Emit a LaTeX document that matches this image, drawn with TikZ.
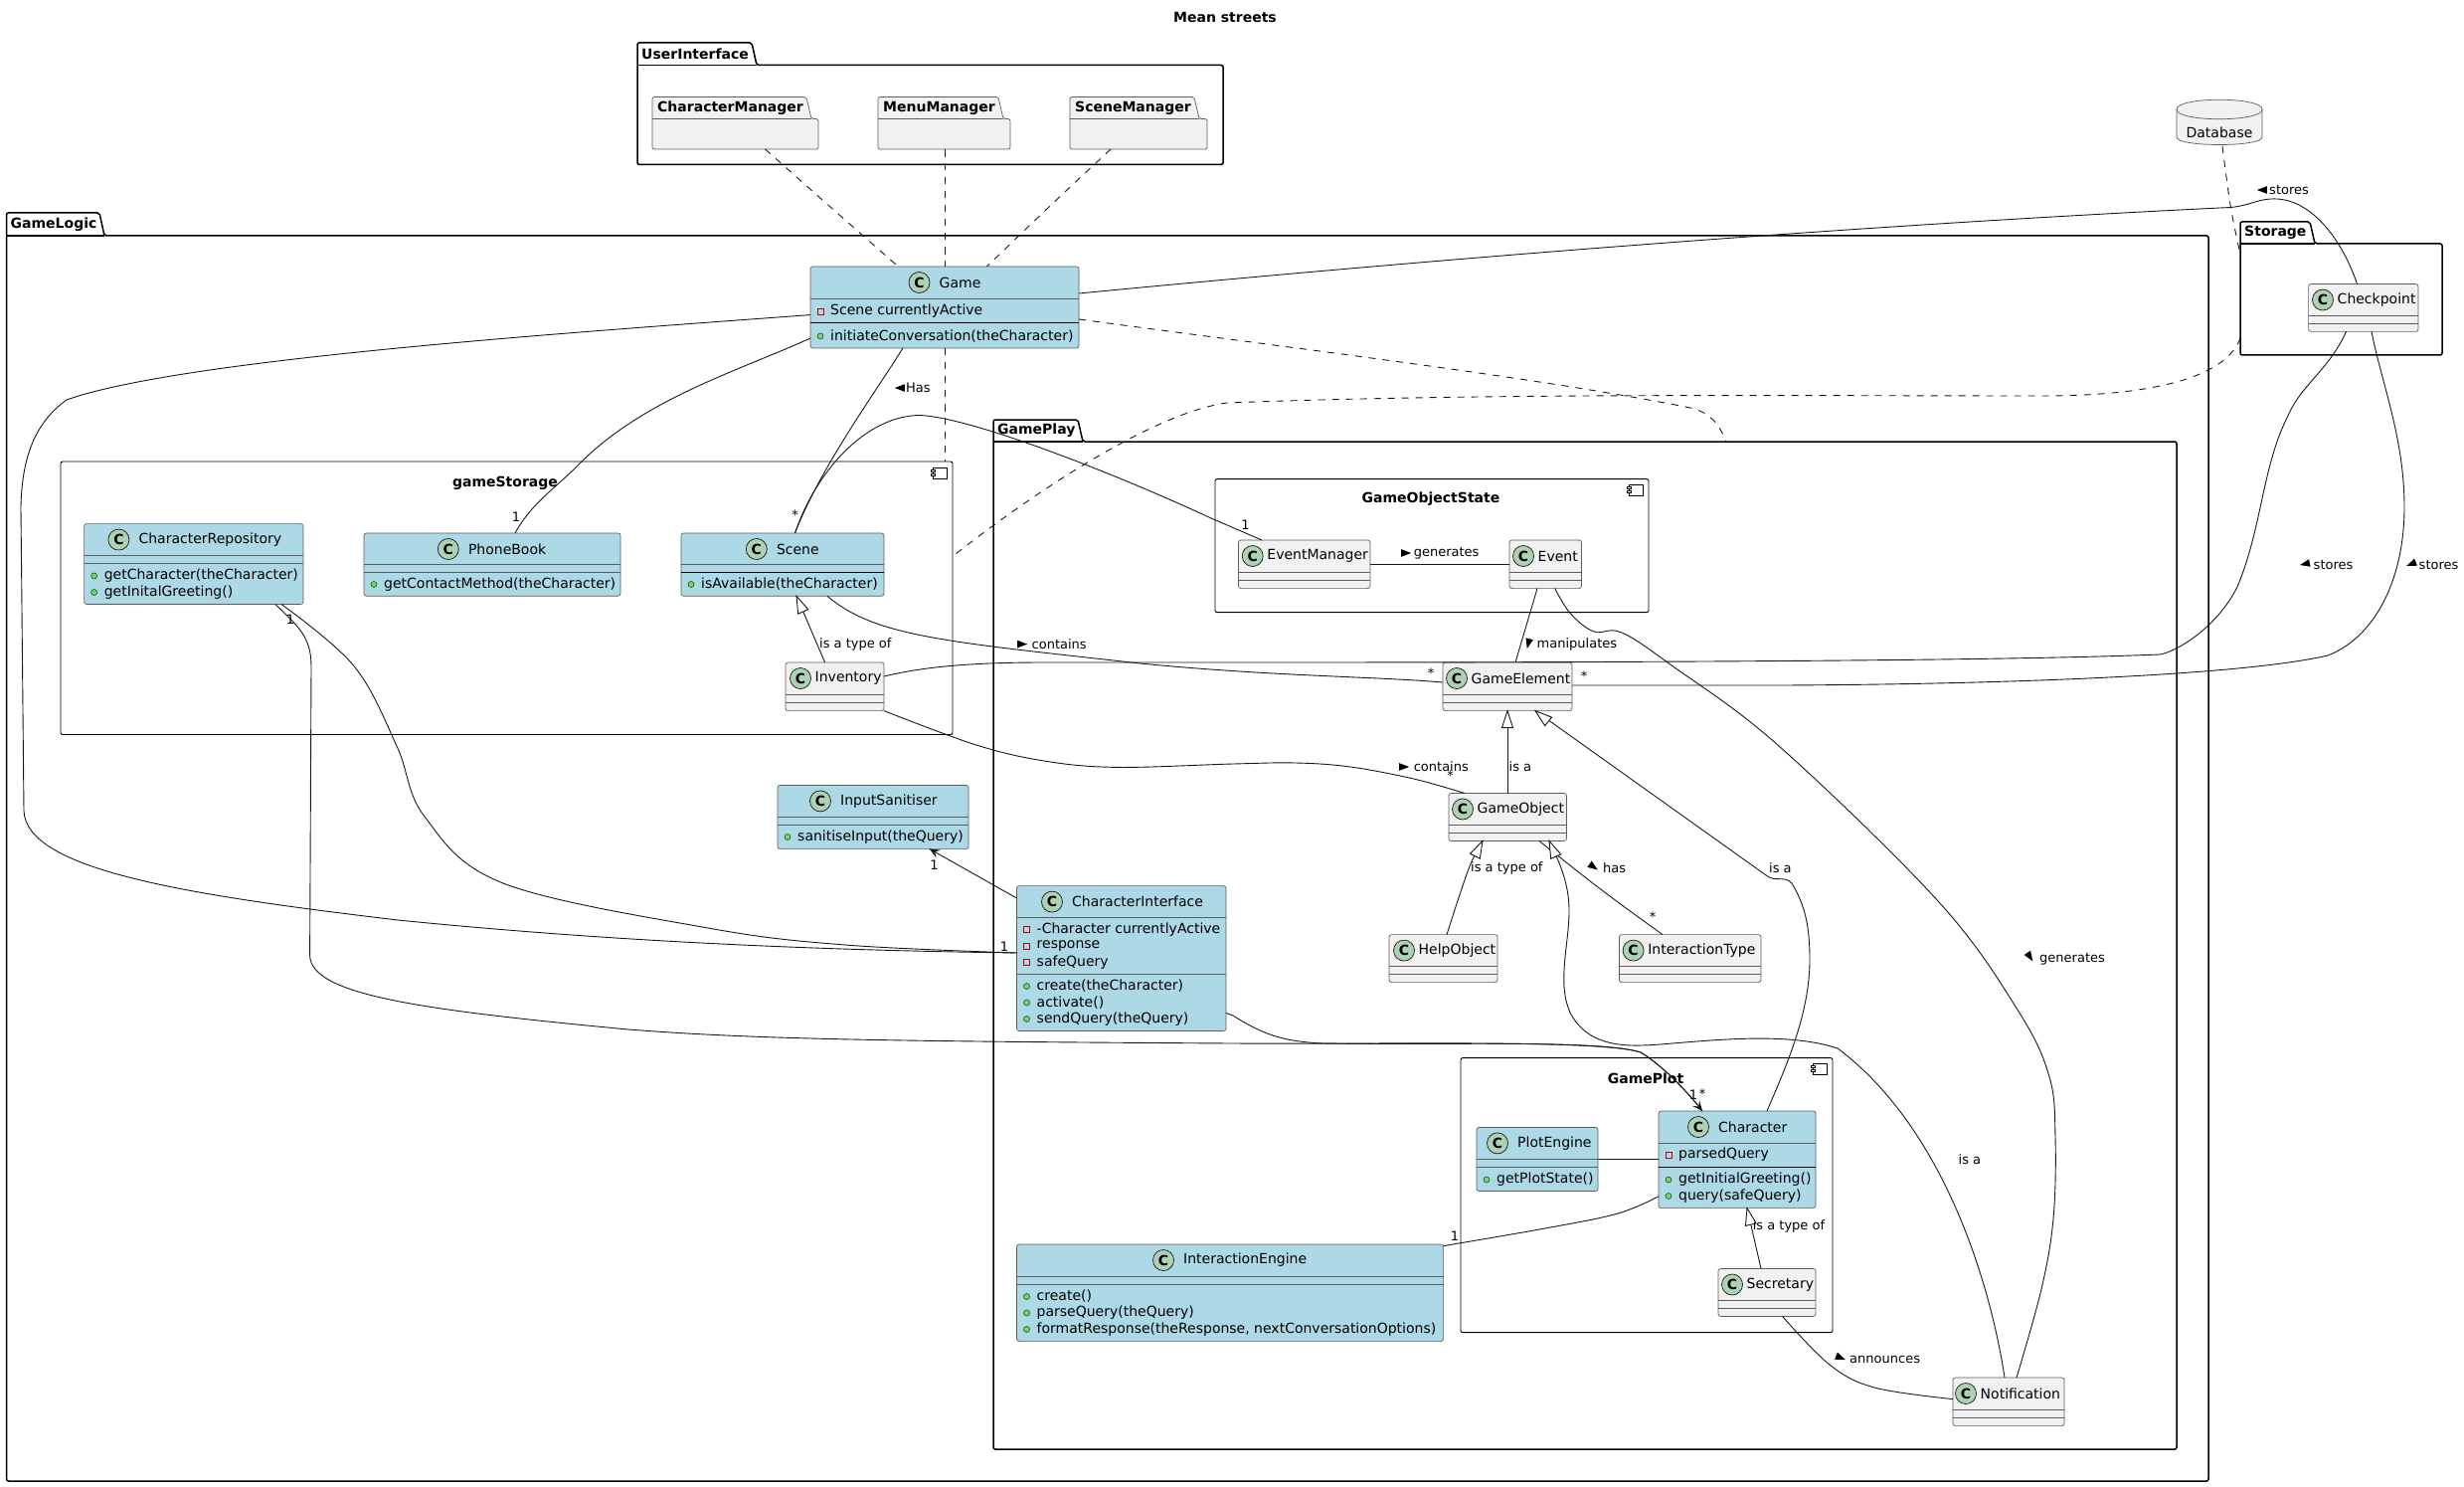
\documentclass[tikz,border=0pt]{standalone}
\usepackage{fontspec}
\setmainfont{DejaVu Sans}
\usetikzlibrary{calc}
\definecolor{cblue}{HTML}{ADD8E6}
\definecolor{cgrey}{HTML}{F1F1F1}
\definecolor{cicon}{HTML}{ADD1B2}
\definecolor{cline}{HTML}{181818}
\tikzset{
  x=1pt,y=-1pt,
  conn/.style={draw=cline,line width=0.9pt},
  dashconn/.style={draw=cline,line width=0.9pt,dash pattern=on 7pt off 7pt},
  classframe/.style={draw=cline!70,line width=0.7pt,rounded corners=2.5pt,inner sep=0pt,outer sep=0pt},
  sepline/.style={draw=cline!70,line width=0.7pt},
  lbl/.style={font=\fontsize{13}{15}\selectfont,inner sep=0pt,anchor=west,text=black},
  mult/.style={font=\fontsize{13}{15}\selectfont,inner sep=0pt,text=black},
  memb/.style={font=\fontsize{14}{16}\selectfont,inner sep=0pt,anchor=west,text=black},
  ttl/.style={font=\fontsize{14}{16}\selectfont,inner sep=0pt,anchor=west,text=black},
  iconc/.style={circle,draw=cline,fill=cicon,line width=0.7pt,minimum size=21pt,inner sep=0pt,font=\fontsize{14}{16}\selectfont\bfseries},
  pkline/.style={draw=black,line width=1.5pt,rounded corners=2pt},
  pklbl/.style={font=\fontsize{14}{16}\selectfont\bfseries,inner sep=0pt,anchor=west,text=black},
  region/.style={inner sep=0pt,outer sep=0pt},
}
\newcommand{\regionnode}[6][]{%
  \pgfmathsetmacro{\rw}{#5-#3}\pgfmathsetmacro{\rh}{#6-#4}%
  \node[region,#1,minimum width=\rw pt,minimum height=\rh pt,anchor=north west] (#2) at (#3,#4) {};}
\newcommand{\cls}[8]{%
  \regionnode[classframe,fill=#6]{#1}{#2}{#3}{#4}{#5}%
  \pgfmathsetmacro{\cy}{#3+16}%
  \node[iconc] (#1icon) at (#8,\cy) {C};%
  \pgfmathsetmacro{\tx}{#8+\offs}%
  \node[ttl] (#1title) at (\tx,\cy) {#7};}
\def\offs{20}
\newcommand{\seps}[6]{%
  \draw[sepline] (#1,#3) -- (#2,#3);
  \draw[draw=#5,line width=#6pt] (#1,#4) -- (#2,#4);}
\newcommand{\pub}[5]{%
  \fill[fill=green!40!gray!70,draw=green!40!black,line width=0.6pt] (#2+10,#3) circle (3pt);
  \node[memb] (#1) at (#2+20,#3) {#4};}
\newcommand{\prv}[4]{%
  \draw[draw=red!75!black,line width=0.8pt] (#2+7,#3-3) rectangle (#2+13,#3+3);
  \node[memb] (#1) at (#2+20,#3) {#4};}
\newcommand{\pkgframe}[8]{%
  \regionnode{#1}{#2}{#3}{#6}{#7}%
  \draw[pkline] (#2,#5) -- (#2,#3) -- (#4-5,#3) -- (#4,#5) -- (#6,#5) -- (#6,#7) -- (#2,#7) -- cycle;
  \draw[draw=black,line width=1.5pt] (#2,#5) -- (#4,#5);
  \pgfmathsetmacro{\ly}{(#3+#5)/2}%
  \node[pklbl] (#1label) at (#2+4,\ly) {#8};}
\newcommand{\inpkg}[7]{%
  \regionnode{#1}{#2}{#3}{#5}{#6}%
  \draw[draw=cline!70,fill=cgrey,line width=0.7pt,rounded corners=2pt] (#2,#3+22) -- (#2,#3) -- (#4-5,#3) -- (#4,#3+22) -- (#5,#3+22) -- (#5,#6) -- (#2,#6) -- cycle;
  \draw[draw=cline!70,line width=0.7pt] (#2,#3+22) -- (#4,#3+22);
  \node[pklbl] (#1label) at (#2+5,#3+11) {#7};}
\newcommand{\comp}[8]{%
  \regionnode[draw=black,line width=0.9pt,rounded corners=2pt]{#1}{#2}{#3}{#4}{#5}%
  \node[font=\fontsize{14}{16}\selectfont\bfseries,inner sep=0pt] (#1title) at (#6,#7) {#8};
  \draw[draw=black,line width=0.7pt,fill=white] (#4-20,#3+6) rectangle (#4-6,#3+17);
  \draw[draw=black,line width=0.7pt,fill=white] (#4-22,#3+8) rectangle (#4-18,#3+10);
  \draw[draw=black,line width=0.7pt,fill=white] (#4-22,#3+12) rectangle (#4-18,#3+14);}
\newcommand{\hollow}[2]{%
  \coordinate (htip) at #1; \coordinate (hfrom) at #2;
  \coordinate (hbase) at ($(htip)!17pt!(hfrom)$);
  \draw[draw=cline,fill=white,line width=0.9pt] (htip) -- ($(hbase)!5.5pt!90:(htip)$) -- ($(hbase)!5.5pt!-90:(htip)$) -- cycle;}
\newcommand{\barb}[2]{%
  \coordinate (htip) at #1; \coordinate (hfrom) at #2;
  \coordinate (hbase) at ($(htip)!10pt!(hfrom)$);
  \coordinate (hnotch) at ($(htip)!6pt!(hfrom)$);
  \fill[fill=cline] (htip) -- ($(hbase)!4.5pt!90:(htip)$) -- (hnotch) -- ($(hbase)!4.5pt!-90:(htip)$) -- cycle;}
\newcommand{\ltri}[3]{%
  \fill[fill=black,shift={(#1,#2)}] (#3:5.2) -- (#3+142:6.2) -- (#3-142:6.2) -- cycle;}
\newcommand{\plotc}[2][conn]{\draw[#1] plot[smooth,tension=0.6] coordinates {#2};}
\begin{document}
\begin{tikzpicture}
\useasboundingbox (0,0) rectangle (2478,1495);
\node[font=\fontsize{14}{16}\selectfont\bfseries,inner sep=0pt] (title) at (1232,18) {Mean streets};

% ---------- packages
\pkgframe{ui}{641}{43}{761}{65.5}{1230}{165.5}{UserInterface}
\pkgframe{gamelogic}{6.5}{214}{105}{237}{2221}{1489}{GameLogic}
\pkgframe{gameplay}{999}{422}{1089}{444}{2189}{1457}{GamePlay}
\pkgframe{storage}{2253}{223}{2328}{245}{2456}{357}{Storage}
\inpkg{charman}{656}{97.6}{816}{823}{150}{CharacterManager}
\inpkg{menuman}{883}{97.6}{1009}{1016}{150}{MenuManager}
\inpkg{sceneman}{1076}{97.6}{1206}{1214}{150}{SceneManager}

% ---------- database
\regionnode{database}{2189}{100}{2275}{146}
\draw[draw=cline!70,fill=cgrey,line width=0.7pt] (2189,110) .. controls (2189,97) and (2275,97) .. (2275,110) -- (2275,138) .. controls (2275,148) and (2189,148) .. (2189,138) -- cycle;
\draw[draw=cline!70,line width=0.7pt] (2189,110) .. controls (2189,123) and (2275,123) .. (2275,110);
\node[font=\fontsize{14}{16}\selectfont,inner sep=0pt] (dblabel) at (2232,133.5) {Database};

% ---------- components
\comp{gamestorage}{61}{464}{958}{738.5}{508}{486}{gameStorage}
\comp{gos}{1222}{481.6}{1658}{615.6}{1439}{502}{GameObjectState}
\comp{gameplot}{1469}{1063.6}{1843}{1339.6}{1655}{1084}{GamePlot}

% ---------- blue classes
\def\offs{20}
\cls{game}{815}{268}{1085}{350}{cblue}{Game}{924.5}
\draw[sepline] (815,300) -- (1085,300); \draw[draw=black,line width=1pt] (815,325) -- (1085,325);
\prv{gamem1}{815}{313}{Scene currentlyActive}
\pub{gamem2}{815}{338}{initiateConversation(theCharacter)}{}

\cls{charrepo}{84.6}{526.6}{305}{607.5}{cblue}{CharacterRepository}{119.4}
\seps{84.6}{305}{558.6}{566.6}{cline!70}{0.7}
\pub{crm1}{84.6}{579}{getCharacter(theCharacter)}{}
\pub{crm2}{84.6}{595.5}{getInitalGreeting()}{}

\cls{phonebook}{366}{536}{624}{599.3}{cblue}{PhoneBook}{450.8}
\seps{366}{624}{567.5}{575.5}{cline!70}{0.7}
\pub{pbm1}{366}{587.5}{getContactMethod(theCharacter)}{}

\cls{scene}{685}{536}{889}{599.3}{cblue}{Scene}{760.8}
\draw[sepline] (685,567.5) -- (889,567.5); \draw[draw=black,line width=1pt] (685,575.5) -- (889,575.5);
\pub{scm1}{685}{587.5}{isAvailable(theCharacter)}{}

\cls{sanitiser}{782}{789.4}{974}{853.6}{cblue}{InputSanitiser}{825}
\seps{782}{974}{821}{829}{cline!70}{0.7}
\pub{sam1}{782}{841.5}{sanitiseInput(theQuery)}{}

\cls{charif}{1022.5}{890.6}{1233}{1036.5}{cblue}{CharacterInterface}{1058}
\draw[sepline] (1022.5,922.5) -- (1233,922.5); \draw[sepline] (1022.5,979.5) -- (1233,979.5);
\prv{cim1}{1022.5}{934.5}{-Character currentlyActive}
\prv{cim2}{1022.5}{951}{response}
\prv{cim3}{1022.5}{967.5}{safeQuery}
\pub{cim4}{1022.5}{991.5}{create(theCharacter)}{}
\pub{cim5}{1022.5}{1008}{activate()}{}
\pub{cim6}{1022.5}{1024.5}{sendQuery(theQuery)}{}

\cls{intengine}{1022.5}{1251}{1451.6}{1348.6}{cblue}{InteractionEngine}{1170}
\seps{1022.5}{1451.6}{1283}{1291}{cline!70}{0.7}
\pub{iem1}{1022.5}{1303.5}{create()}{}
\pub{iem2}{1022.5}{1320}{parseQuery(theQuery)}{}
\pub{iem3}{1022.5}{1336.5}{formatResponse(theResponse, nextConversationOptions)}{}

\cls{character}{1668}{1117}{1826}{1214.6}{cblue}{Character}{1708}
\draw[sepline] (1668,1149) -- (1826,1149); \draw[draw=black,line width=1pt] (1668,1173) -- (1826,1173);
\prv{chm1}{1668}{1161}{parsedQuery}
\pub{chm2}{1668}{1186}{getInitialGreeting()}{}
\pub{chm3}{1668}{1202.5}{query(safeQuery)}{}

\cls{plotengine}{1485}{1133.4}{1607}{1197.5}{cblue}{PlotEngine}{1506}
\seps{1485}{1607}{1165.5}{1173.5}{cline!70}{0.7}
\pub{pem1}{1485}{1186}{getPlotState()}{}

% ---------- grey classes
\def\offs{14.5}
\cls{inventory}{790}{666}{889}{714.6}{cgrey}{Inventory}{805}
\seps{790}{889}{698}{706}{cline!70}{0.7}
\cls{eventman}{1245.5}{543}{1378}{591.6}{cgrey}{EventManager}{1259.7}
\seps{1245.5}{1378}{575}{583}{cline!70}{0.7}
\cls{event}{1518}{543}{1590.5}{591.6}{cgrey}{Event}{1532}
\seps{1518}{1590.5}{575}{583}{cline!70}{0.7}
\cls{gameelement}{1451}{666}{1581}{714.6}{cgrey}{GameElement}{1465}
\seps{1451}{1581}{698}{706}{cline!70}{0.7}
\cls{gameobject}{1457}{797.5}{1575.5}{845.5}{cgrey}{GameObject}{1471}
\seps{1457}{1575.5}{829.5}{837.5}{cline!70}{0.7}
\cls{helpobject}{1397}{939.6}{1506}{987.6}{cgrey}{HelpObject}{1412}
\seps{1397}{1506}{971.5}{979.5}{cline!70}{0.7}
\cls{inttype}{1628.4}{939.6}{1771}{987.6}{cgrey}{InteractionType}{1642.6}
\seps{1628.4}{1771}{971.5}{979.5}{cline!70}{0.7}
\cls{secretary}{1728}{1275.5}{1826}{1323.5}{cgrey}{Secretary}{1742}
\seps{1728}{1826}{1307.5}{1315.5}{cline!70}{0.7}
\cls{notification}{1964}{1385}{2076}{1433.6}{cgrey}{Notification}{1977}
\seps{1964}{2076}{1417}{1425}{cline!70}{0.7}
\cls{checkpoint}{2321.6}{285.5}{2432}{333.4}{cgrey}{Checkpoint}{2336}
\seps{2321.6}{2432}{317.5}{325.5}{cline!70}{0.7}

% ---------- dashed connectors
\plotc[dashconn]{($(charman.south west)+(113.5,0)$) (835,208) ($(game.north west)+(86,-2)$)}
\plotc[dashconn]{($(menuman.south west)+(67,0)$) (950,210) ($(game.north west)+(135,0)$)}
\plotc[dashconn]{($(game.south west)+(135,0)$) (950,400) ($(gamestorage.north west)+(889,0)$)}
\plotc[dashconn]{($(sceneman.south west)+(41,0)$) (1055,208) ($(game.north west)+(177.5,0)$)}
\draw[dashconn] ($(game.north east)+(0,53)$) .. controls (1300,350) and (1550,380) .. (1700,410) .. controls (1720,415) and (1728,425) .. ($(gameplay.north west)+(737,22)$);
\plotc[dashconn]{($(database.south west)+(46,1)$) (2243,206) ($(storage.north west)+(-1,28)$)}
\draw[dashconn] ($(storage.south west)+(0,-17)$) .. controls (2240,375) and (2180,397) .. (2060,398) .. controls (1800,398) and (1500,395) .. (1234,405) .. controls (1160,415) and (1040,495) .. ($(gamestorage.north east)+(1,94.6)$);

% ---------- solid connectors
\draw[conn] ($(game.north east)+(0,27)$) .. controls (1500,255) and (1900,225) .. (2243,208.5) .. controls (2262,207) and (2272,199) .. (2290,200) .. controls (2325,202) and (2355,240) .. ($(checkpoint.north west)+(48.9,0)$);
\draw[conn] ($(game.north west)+(0,48.6)$) .. controls (550,336) and (180,362) .. (67,402) .. controls (35,425) and (22,460) .. (21,510) -- (24,815) .. controls (26,875) and (190,900) .. (400,925) .. controls (600,945) and (800,955) .. ($(charif.north west)+(0,67.4)$);
\draw[conn] ($(game.south west)+(0,-10)$) .. controls (745,372) and (650,400) .. (585,464) .. controls (560,490) and (535,505) .. ($(phonebook.north west)+(152,0)$);
\draw[conn] ($(game.south west)+(93,0)$) .. controls (880,395) and (825,470) .. ($(scene.north west)+(114.5,0)$);
\draw[conn] ($(scene.north west)+(114.5,0)$) .. controls (820,475) and (870,418) .. (925,417.5) .. controls (980,420) and (1130,480) .. (1218,521) -- ($(eventman.north west)+(23.5,0)$);
\draw[conn] ($(scene.south west)+(147,0)$) .. controls (880,640) and (950,645) .. (1146.7,667) .. controls (1280,680) and (1380,680) .. ($(gameelement.north west)+(0,20)$);
\draw[conn] ($(scene.south west)+(116,0)$) -- ($(inventory.north west)+(39.6,0)$);
\hollow{($(scene.south west)+(116,0)$)}{($(inventory.north west)+(39.6,0)$)}
\draw[conn] ($(inventory.north east)+(0,14)$) .. controls (930,670) and (980,666) .. (1050,666) -- (1240,666) .. controls (1600,666) and (2000,665) .. (2172,658) .. controls (2190,655) and (2230,630) .. (2250,590) .. controls (2275,530) and (2275,470) .. (2300,420) .. controls (2315,385) and (2340,375) .. ($(checkpoint.south west)+(38,0)$);
\draw[conn] ($(gameelement.south east)+(0,-25.6)$) -- (1793,689) .. controls (2000,688) and (2250,680) .. (2341,659) .. controls (2390,640) and (2418,580) .. (2418,510) .. controls (2418,440) and (2395,385) .. ($(checkpoint.south west)+(63.4,0)$);
\plotc{($(inventory.south east)+(0,0)$) (980.6,748.6) (1050,765) (1123,771.4) (1240,768) (1303,767) (1358,771) (1421.6,783) ($(gameobject.north west)+(16,0)$)}
\plotc{($(charrepo.south west)+(198.4,0)$) (356,669.6) (399,750) (427,821) (506,888) (712,933) (850,950) ($(charif.north west)+(0,67.4)$)}
\draw[conn] ($(charrepo.south west)+(192.4,0)$) .. controls (300,630) and (313,640) .. (313,670) -- (311.6,960) .. controls (311.6,1000) and (420,1015) .. (632,1035) .. controls (760,1045) and (900,1047) .. (1240,1049) .. controls (1400,1050) and (1610,1045) .. (1650,1058) .. controls (1670,1070) and (1695,1095) .. ($(character.north west)+(44,0)$);
\draw[conn] ($(charif.south east)+(0,-18)$) -- (1240,1021) .. controls (1270,1040) and (1290,1047) .. (1330,1049) .. controls (1450,1051) and (1610,1045) .. (1650,1058) .. controls (1670,1070) and (1695,1095) .. ($(character.north west)+(44,0)$);
\barb{($(character.north west)+(44,0)$)}{(1690,1090)}
\draw[conn] ($(charif.north west)+(0,12.4)$) -- ($(sanitiser.south west)+(153,0)$);
\barb{($(sanitiser.south west)+(153,0)$)}{($(charif.north west)+(0,12.4)$)}
\draw[conn] ($(eventman.north east)+(0,24)$) -- ($(event.north west)+(0,24)$);
\draw[conn] ($(event.south west)+(28,0)$) -- ($(gameelement.north west)+(73,0)$);
\plotc{($(event.south west)+(45.7,0)$) (1579.5,617) (1603,635) (1631,636) (1682,669.6) (1789,750) (1950,907) (2029.5,1016) (2061,1082.6) (2067,1144) (2065,1225) (2053,1296) ($(notification.north west)+(64,0)$)}
\draw[conn] ($(gameelement.south west)+(65,0)$) -- ($(gameobject.north west)+(59,0)$);
\hollow{($(gameelement.south west)+(65,0)$)}{($(gameobject.north west)+(59,0)$)}
\draw[conn] ($(gameelement.south west)+(93,0)$) -- (1777,880.6) .. controls (1785,887) and (1795,880) .. (1802,888) .. controls (1815,910) and (1820,930) .. (1820,965) .. controls (1820,1020) and (1795,1075) .. ($(character.north west)+(109,0)$);
\hollow{($(gameelement.south west)+(93,0)$)}{(1587,750)}
\plotc{($(gameobject.south west)+(34,0)$) (1477,873.5) ($(helpobject.north west)+(58,0)$)}
\hollow{($(gameobject.south west)+(34,0)$)}{(1477,873.5)}
\plotc{($(gameobject.south west)+(91,0)$) (1611,895) ($(inttype.north west)+(43.6,0)$)}
\draw[conn] ($(gameobject.south west)+(101,0)$) .. controls (1570,870) and (1578,890) .. (1578,916) .. controls (1578,950) and (1565,990) .. (1580,1020) .. controls (1600,1055) and (1640,1052) .. (1670,1050) .. controls (1730,1045) and (1800,1038) .. (1848,1054) .. controls (1950,1130) and (2000,1280) .. ($(notification.north west)+(52,0)$);
\hollow{($(gameobject.south west)+(101,0)$)}{(1572,878)}
\draw[conn] ($(plotengine.north east)+(0,32.1)$) -- ($(character.north west)+(0,48.5)$);
\draw[conn] ($(secretary.north west)+(43,0)$) -- ($(character.south west)+(89,0)$);
\hollow{($(character.south west)+(89,0)$)}{($(secretary.north west)+(43,0)$)}
\plotc{($(character.south west)+(0,-11.8)$) (1627,1220) (1556,1234.6) ($(intengine.north east)+(0,1.6)$)}
\plotc{($(secretary.south west)+(64.6,0)$) (1840,1372) (1885,1395) ($(notification.north west)+(0,21.6)$)}

% ---------- connector labels
\ltri{905}{390}{180}
\node[lbl] (lhas) at (911,390) {Has};
\ltri{2275}{191}{180}
\node[lbl] (lst1) at (2282,191) {stores};
\ltri{2318}{567}{168}
\node[lbl] (lst2) at (2326.5,568) {stores};
\ltri{2425}{567}{158}
\node[lbl] (lst3) at (2432.5,568) {stores};
\ltri{1028}{647.6}{0}
\node[lbl] (lcont1) at (1037.5,647.6) {contains};
\ltri{1412}{771}{0}
\node[lbl] (lcont2) at (1421.6,771) {contains};
\ltri{1414}{556}{0}
\node[lbl] (lgen1) at (1421.6,556) {generates};
\ltri{1537}{647}{104}
\node[lbl] (lman) at (1545.5,647.6) {manipulates};
\node[lbl] (lisa1) at (1517.5,771) {is a};
\node[lbl] (lisa2) at (1779,872.6) {is a};
\node[lbl] (lisa3) at (1969.5,1165.7) {is a};
\node[lbl] (lty1) at (824,647.6) {is a type of};
\node[lbl] (lty2) at (1479,872.6) {is a type of};
\node[lbl] (lty3) at (1762.6,1232.7) {is a type of};
\ltri{1602.5}{871.5}{35}
\node[lbl] (lhas2) at (1612,872.6) {has};
\ltri{2041.5}{962}{57}
\node[lbl] (lgen2) at (2051,964) {generates};
\ltri{1851}{1365}{22}
\node[lbl] (lann) at (1860,1366.7) {announces};
% multiplicities
\node[mult] (m1) at (1010,952) {1};
\node[mult] (m2) at (519,519.4) {1};
\node[mult] (m3) at (799.5,518) {*};
\node[mult] (m4) at (1252.6,527.5) {1};
\node[mult] (m5) at (1439,677) {*};
\node[mult] (m6) at (1593,680) {*};
\node[mult] (m7) at (1458.7,780) {*};
\node[mult] (m8) at (292,623) {1};
\node[mult] (m9) at (1703,1100.6) {1};
\node[mult] (m10) at (1712,1100) {*};
\node[mult] (m11) at (939.5,870) {1};
\node[mult] (m12) at (1662,922) {*};
\node[mult] (m13) at (1463,1243) {1};
\end{tikzpicture}
\end{document}
